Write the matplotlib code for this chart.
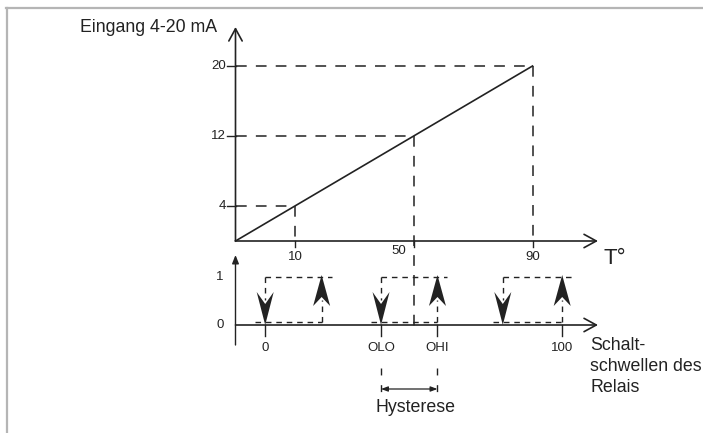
import matplotlib
matplotlib.use("Agg")
import matplotlib.pyplot as plt
from matplotlib.patches import Polygon
from matplotlib.lines import Line2D

plt.rcParams['font.family'] = ['Liberation Sans', 'DejaVu Sans']

# --- data -------------------------------------------------------------
T_start = -10                      # temperature at origin of the diagram
T_marks = [10, 50, 90]             # temperatures on the upper axis
mA_marks = [4, 12, 20]             # corresponding input currents
relay_ticks = [0, 39, 58, 100]     # switching thresholds (lower axis)
relay_labels = ['0', 'OLO', 'OHI', '100']
loops_low = [0, 39, 80]            # relay switches off (down arrow)
loops_high = [19, 58, 100]         # relay switches on (up arrow)
state_ticks = [0, 1]

W, H = 703, 433
fig = plt.figure(figsize=(W / 100, H / 100), dpi=100)
ink = '#222222'

# pixel geometry of the drawing
x0_px, T_px = 235.5, 2.97          # origin x, px per degree
yu0_px, mA_px = 241, 8.75          # upper origin y, px per mA
yl0_px, s_px = 325, 48.0           # lower origin y, px per state

xlim = (T_start - x0_px / T_px, T_start + (W - x0_px) / T_px)
ax_up = fig.add_axes([0, 0, 1, 1])
ax_up.set_xlim(*xlim)
ax_up.set_ylim((yu0_px - H) / mA_px, yu0_px / mA_px)
ax_lo = fig.add_axes([0, 0, 1, 1])
ax_lo.set_xlim(*xlim)
ax_lo.set_ylim((yl0_px - H) / s_px, yl0_px / s_px)
for a in (ax_up, ax_lo):
    a.axis('off')
    a.patch.set_alpha(0)

def T_of(px):
    return T_start + (px - x0_px) / T_px

def mA_of(py):
    return (yu0_px - py) / mA_px

def s_of(py):
    return (yl0_px - py) / s_px

open_arrow = dict(arrowstyle='->,head_length=0.55,head_width=0.3',
                  color=ink, lw=1.2, mutation_scale=16, shrinkA=0, shrinkB=0)
fs_small, fs_big = 9.5, 12.8

# frame (top and left only)
fig.add_artist(Line2D([6 / W, 1], [1 - 8 / H, 1 - 8 / H], transform=fig.transFigure,
                      color='#b5b5b5', lw=1.6))
fig.add_artist(Line2D([7 / W, 7 / W], [0, 1 - 8 / H], transform=fig.transFigure,
                      color='#b5b5b5', lw=1.6))

# ---- upper diagram: input current vs temperature ----
ax_up.annotate('', xy=(T_start, mA_of(27)), xytext=(T_start, 0), arrowprops=open_arrow)
ax_up.annotate('', xy=(T_of(598), 0), xytext=(T_start, 0), arrowprops=open_arrow)
ax_up.plot([T_start, T_marks[-1]], [0, mA_marks[-1]], color=ink, lw=1.2)
ax_up.text(T_of(217), mA_of(27), 'Eingang 4-20 mA', ha='right', va='center',
           fontsize=fs_big, color=ink)

dash_up = dict(color=ink, lw=1.1, dashes=(7, 6))
for t, m in zip(T_marks, mA_marks):
    ax_up.plot([T_start, t], [m, m], **dash_up)
    bottom = mA_of(332) if t == 50 else 0
    ax_up.plot([t, t], [m, bottom], **dash_up)
    ax_up.plot([T_of(227), T_start], [m, m], color=ink, lw=1.0)
    ax_up.text(T_of(226), m, str(m), ha='right', va='center', fontsize=fs_small, color=ink)
    ax_up.plot([t, t], [0, mA_of(247)], color=ink, lw=1.0)
    if t == 50:
        ax_up.text(t - 5, mA_of(251), str(t), ha='center', va='center',
                   fontsize=fs_small, color=ink)
    else:
        ax_up.text(t, mA_of(257), str(t), ha='center', va='center',
                   fontsize=fs_small, color=ink)
ax_up.text(T_of(604), mA_of(258), 'T°', ha='left', va='center', fontsize=16, color=ink)

# ---- lower diagram: relay state ----
ax_lo.annotate('', xy=(T_start, s_of(255)), xytext=(T_start, s_of(345)),
               arrowprops=dict(arrowstyle='-|>,head_length=0.5,head_width=0.2',
                               color=ink, lw=1.0, mutation_scale=10,
                               shrinkA=0, shrinkB=0))
ax_lo.annotate('', xy=(T_of(598), 0), xytext=(T_start, 0), arrowprops=open_arrow)
for s in state_ticks:
    ax_lo.text(T_of(220), s, str(s), ha='center', va='center', fontsize=fs_small, color=ink)

for t, lab in zip(relay_ticks, relay_labels):
    ax_lo.plot([t, t], [0, s_of(336)], color=ink, lw=1.0)
    ax_lo.text(t, s_of(348), lab, ha='center', va='center', fontsize=fs_small, color=ink)

dash_lo = dict(color=ink, lw=1.0, dashes=(4, 3.5))
hw = 8.5 / T_px
base = s_of(322)
for lo, hi in zip(loops_low, loops_high):
    ax_lo.plot([lo, hi + 10 / T_px], [1, 1], **dash_lo)
    ax_lo.plot([lo - 10 / T_px, hi], [base, base], **dash_lo)
    ax_lo.plot([lo, lo], [1, s_of(300)], **dash_lo)
    ax_lo.plot([hi, hi], [base, s_of(300)], **dash_lo)
    ax_lo.add_patch(Polygon([(lo, s_of(325)), (lo - hw, s_of(292)), (lo, s_of(304)),
                             (lo + hw, s_of(292))], closed=True, color=ink, lw=0))
    ax_lo.add_patch(Polygon([(hi, s_of(275)), (hi - hw, s_of(306)), (hi, s_of(297)),
                             (hi + hw, s_of(306))], closed=True, color=ink, lw=0))

# hysteresis marker
olo, ohi = relay_ticks[1], relay_ticks[2]
for t in (olo, ohi):
    ax_lo.plot([t, t], [s_of(368), s_of(392)], color=ink, lw=1.0, dashes=(5, 7))
ax_lo.annotate('', xy=(ohi, s_of(389)), xytext=(olo, s_of(389)),
               arrowprops=dict(arrowstyle='<|-|>,head_length=0.4,head_width=0.15',
                               color=ink, lw=0.9, mutation_scale=10,
                               shrinkA=0, shrinkB=0))
ax_lo.text((olo + ohi) / 2 + 2, s_of(408), 'Hysterese', ha='center', va='center',
           fontsize=fs_big, color=ink)

ax_lo.text(T_of(590), s_of(337), 'Schalt-\nschwellen des\nRelais', ha='left', va='top',
           fontsize=fs_big, color=ink, linespacing=1.3)

fig.savefig('out.png', dpi=100)
